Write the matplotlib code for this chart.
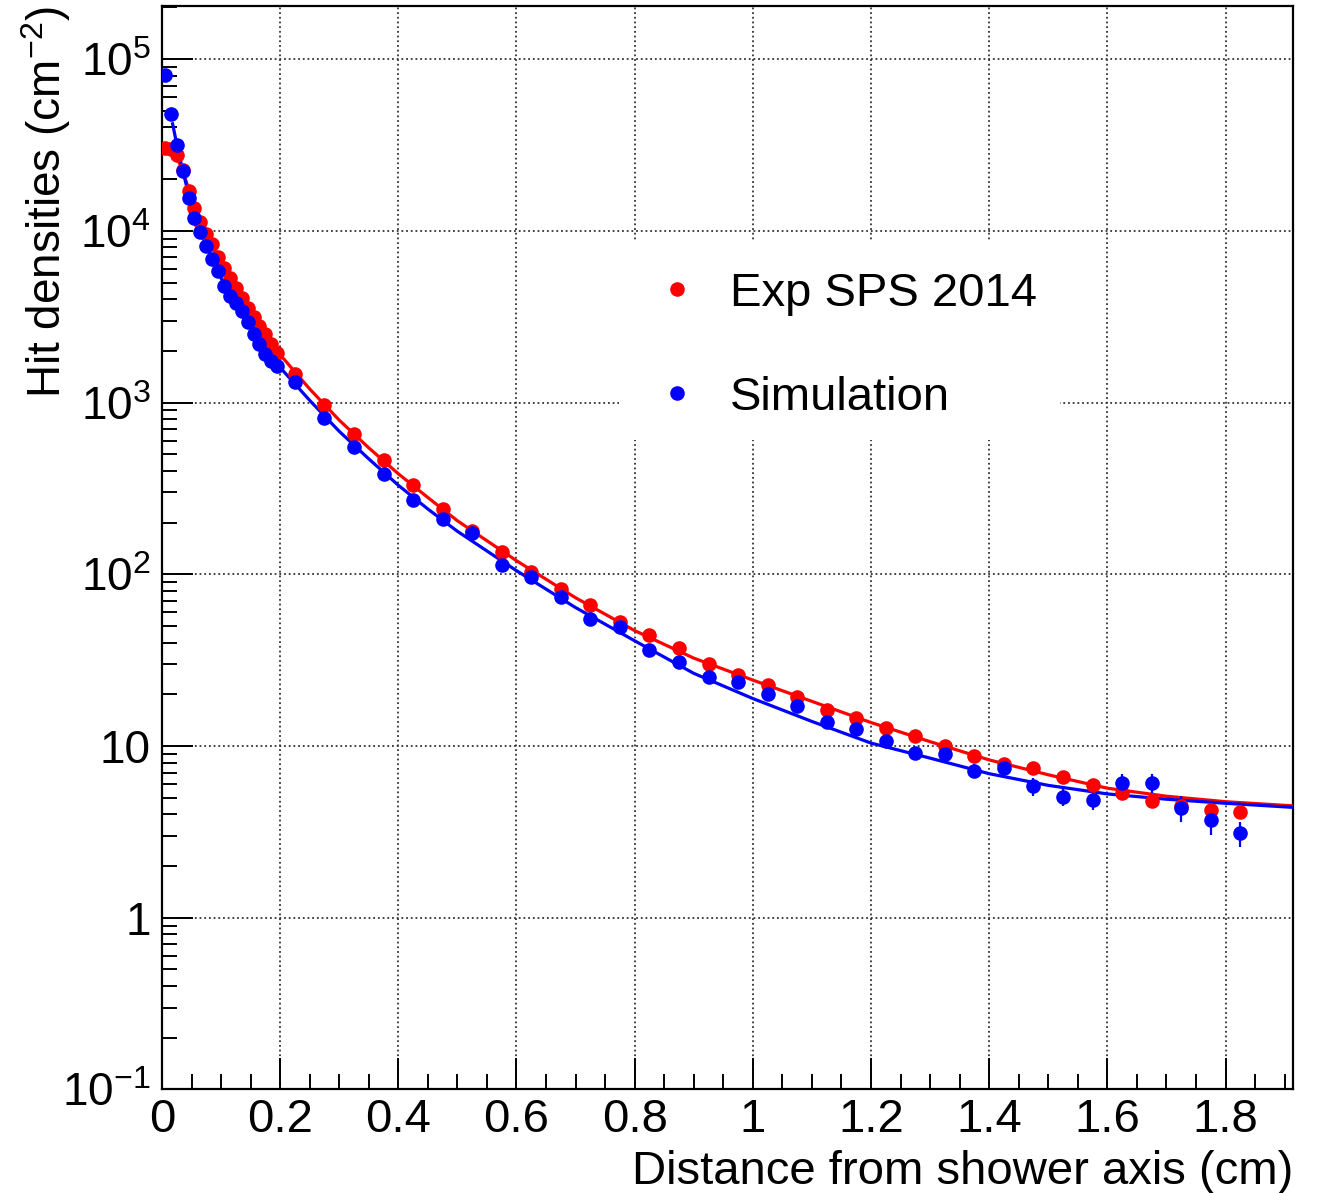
"""Hit density vs distance from shower axis: Exp SPS 2014 vs Simulation."""

import matplotlib

matplotlib.use("Agg")
import matplotlib.pyplot as plt
import numpy as np
from matplotlib.patches import Rectangle
from matplotlib.ticker import FixedLocator, LogLocator, NullFormatter


# bin centres (cm)
x_fine = [0.005, 0.015, 0.025, 0.035, 0.045, 0.055, 0.065, 0.075, 0.085, 0.095,
          0.105, 0.115, 0.125, 0.135, 0.145, 0.155, 0.165, 0.175, 0.185, 0.195]
x_coarse = [0.225, 0.275, 0.325, 0.375, 0.425, 0.475, 0.525, 0.575, 0.625, 0.675,
            0.725, 0.775, 0.825, 0.875, 0.925, 0.975, 1.025, 1.075, 1.125, 1.175,
            1.225, 1.275, 1.325, 1.375, 1.425, 1.475, 1.525, 1.575, 1.625, 1.675,
            1.725, 1.775, 1.825]

# Exp SPS 2014 (red)
exp_fine = [30500, 30000, 27500, 22500, 17000, 13500, 11200, 9600, 8400, 7000,
            6100, 5300, 4650, 4050, 3550, 3150, 2800, 2500, 2200, 1950]
exp_coarse = [1470, 973, 658, 460, 329, 241, 178, 135, 103, 82.6,
              66, 52.8, 44.2, 37, 30.2, 25.8, 22.6, 19.2, 16.3, 14.5,
              12.7, 11.4, 10.0, 8.75, 7.9, 7.4, 6.64, 5.93, 5.3, 4.81,
              4.45, 4.25, 4.15]

# Simulation (blue)
sim_fine = [80700, 48000, 31600, 22300, 15600, 11900, 9800, 8200, 6840, 5850,
            4790, 4170, 3800, 3430, 2930, 2510, 2190, 1920, 1750, 1640]
sim_coarse = [1310, 815, 550, 385, 269, 211, 173, 113, 97, 73.8,
              55.2, 49.4, 36.1, 30.9, 25.3, 23.7, 20.2, 17.2, 13.8, 12.6,
              10.7, 9.1, 9.0, 7.2, 7.4, 5.85, 5.03, 4.85, 6.05, 6.12,
              4.37, 3.72, 3.1]
# relative errors of simulation points
sim_fine_err = [0.03, 0.03, 0.02, 0.02, 0.02, 0.02, 0.02, 0.02, 0.02, 0.02,
                0.02, 0.02, 0.02, 0.02, 0.02, 0.02, 0.02, 0.02, 0.02, 0.02]
sim_coarse_err = [0.02, 0.02, 0.02, 0.02, 0.03, 0.03, 0.03, 0.03, 0.04, 0.04,
                  0.04, 0.05, 0.05, 0.05, 0.05, 0.05, 0.06, 0.08, 0.06, 0.07,
                  0.07, 0.07, 0.07, 0.09, 0.08, 0.12, 0.11, 0.12, 0.13, 0.13,
                  0.17, 0.18, 0.17]

# fitted curves
fit_exp_x = [0.015, 0.025, 0.035, 0.05, 0.075, 0.1, 0.125, 0.15, 0.175, 0.2,
             0.25, 0.3, 0.35, 0.4, 0.45, 0.5, 0.6, 0.7, 0.8, 0.9,
             1.0, 1.1, 1.2, 1.3, 1.4, 1.5, 1.6, 1.7, 1.8, 1.915]
fit_exp_y = [30000, 27000, 22500, 15500, 9600, 6500, 4550, 3300, 2450, 1900,
             1200, 790, 545, 385, 280, 205, 120, 73, 47, 32.5,
             24.2, 18.2, 13.7, 10.6, 8.3, 6.8, 5.68, 5.1, 4.74, 4.48]
fit_sim_x = [0.018, 0.025, 0.035, 0.05, 0.075, 0.1, 0.125, 0.15, 0.175, 0.2,
             0.25, 0.3, 0.35, 0.4, 0.45, 0.5, 0.6, 0.7, 0.8, 0.9,
             1.0, 1.1, 1.2, 1.3, 1.4, 1.5, 1.6, 1.7, 1.8, 1.915]
fit_sim_y = [42000, 32000, 22500, 14000, 8300, 5300, 3750, 2750, 2050, 1600,
             1030, 680, 470, 330, 240, 178, 105, 64, 41, 26.5,
             18.9, 13.9, 10.4, 8.5, 6.9, 5.9, 5.26, 4.9, 4.64, 4.39]

RED = "#ff0000"
BLUE = "#0000ff"
FONT = ["Liberation Sans", "DejaVu Sans"]


def main() -> None:
    plt.rcParams["font.family"] = FONT
    plt.rcParams["mathtext.fontset"] = "custom"
    plt.rcParams["mathtext.rm"] = "Liberation Sans"
    plt.rcParams["mathtext.it"] = "Liberation Sans:italic"

    fig = plt.figure(figsize=(13.2, 11.93), dpi=100, facecolor="white")
    ax = fig.add_axes([0.1227, 0.0868, 0.8572, 0.9082])
    ax.set_yscale("log")
    ax.set_xlim(0, 1.915)
    ax.set_ylim(0.1, 2.04e5)
    ax.set_axisbelow(True)

    x_all = np.array(x_fine + x_coarse)
    exp_all = np.array(exp_fine + exp_coarse)
    sim_all = np.array(sim_fine + sim_coarse)
    sim_err = sim_all * np.array(sim_fine_err + sim_coarse_err)

    ax.plot(fit_exp_x, fit_exp_y, color=RED, lw=2.3, zorder=3)
    ax.plot(fit_sim_x, fit_sim_y, color=BLUE, lw=2.3, zorder=3)

    ax.errorbar(x_all, sim_all, yerr=sim_err, fmt="none", ecolor=BLUE, elinewidth=1.6, capsize=0, zorder=4)
    (h_exp,) = ax.plot(x_all, exp_all, "o", color=RED, ms=10.5, mew=0, zorder=4)
    (h_sim,) = ax.plot(x_all, sim_all, "o", color=BLUE, ms=10.5, mew=0, zorder=5)

    # ticks, grid
    ax.xaxis.set_major_locator(FixedLocator([0, 0.2, 0.4, 0.6, 0.8, 1.0, 1.2, 1.4, 1.6, 1.8]))
    ax.xaxis.set_minor_locator(FixedLocator(np.arange(0.05, 1.915, 0.05)))
    ax.set_xticklabels(["0", "0.2", "0.4", "0.6", "0.8", "1", "1.2", "1.4", "1.6", "1.8"])
    yticks = [0.1, 1, 10, 100, 1e3, 1e4, 1e5]
    ax.yaxis.set_major_locator(FixedLocator(yticks))
    ax.yaxis.set_minor_locator(LogLocator(base=10, subs=np.arange(2, 10), numticks=20))
    ax.yaxis.set_minor_formatter(NullFormatter())
    ax.set_yticklabels([r"$\mathregular{10^{-1}}$", "1", "10", r"$\mathregular{10^{2}}$",
                        r"$\mathregular{10^{3}}$", r"$\mathregular{10^{4}}$", r"$\mathregular{10^{5}}$"])
    ax.tick_params(which="both", direction="in", top=False, right=False, width=1.4, colors="black")
    ax.tick_params(which="major", length=22)
    ax.tick_params(which="minor", length=11)
    ax.tick_params(axis="x", which="major", labelsize=34, pad=6)
    ax.tick_params(axis="y", which="major", labelsize=33, pad=8)
    ax.grid(True, which="major", color="#333333", lw=1.3, linestyle=(0, (1, 1.6)))
    for spine in ax.spines.values():
        spine.set_linewidth(1.6)

    ax.set_xlabel("Distance from shower axis (cm)", fontsize=34, loc="right")
    ax.xaxis.set_label_coords(1.0, -0.056)
    ax.set_ylabel(r"Hit densities (cm$^{\mathregular{-2}}$)", fontsize=33, loc="top")
    ax.yaxis.set_label_coords(-0.079, 1.0)

    # white legend box hiding the grid
    ax.add_patch(Rectangle((0.404, 0.599), 0.39, 0.184, transform=ax.transAxes,
                           facecolor="white", edgecolor="none", zorder=1))
    ax.legend([h_exp, h_sim], ["Exp SPS 2014", "Simulation"], loc="upper left",
              bbox_to_anchor=(0.434, 0.7545), frameon=False, fontsize=34,
              handlelength=1.0, handletextpad=0.63, labelspacing=1.27,
              borderpad=0, borderaxespad=0, markerscale=1.0)

    fig.savefig("out.png", dpi=100, facecolor="white")
    plt.close(fig)


if __name__ == "__main__":
    main()
